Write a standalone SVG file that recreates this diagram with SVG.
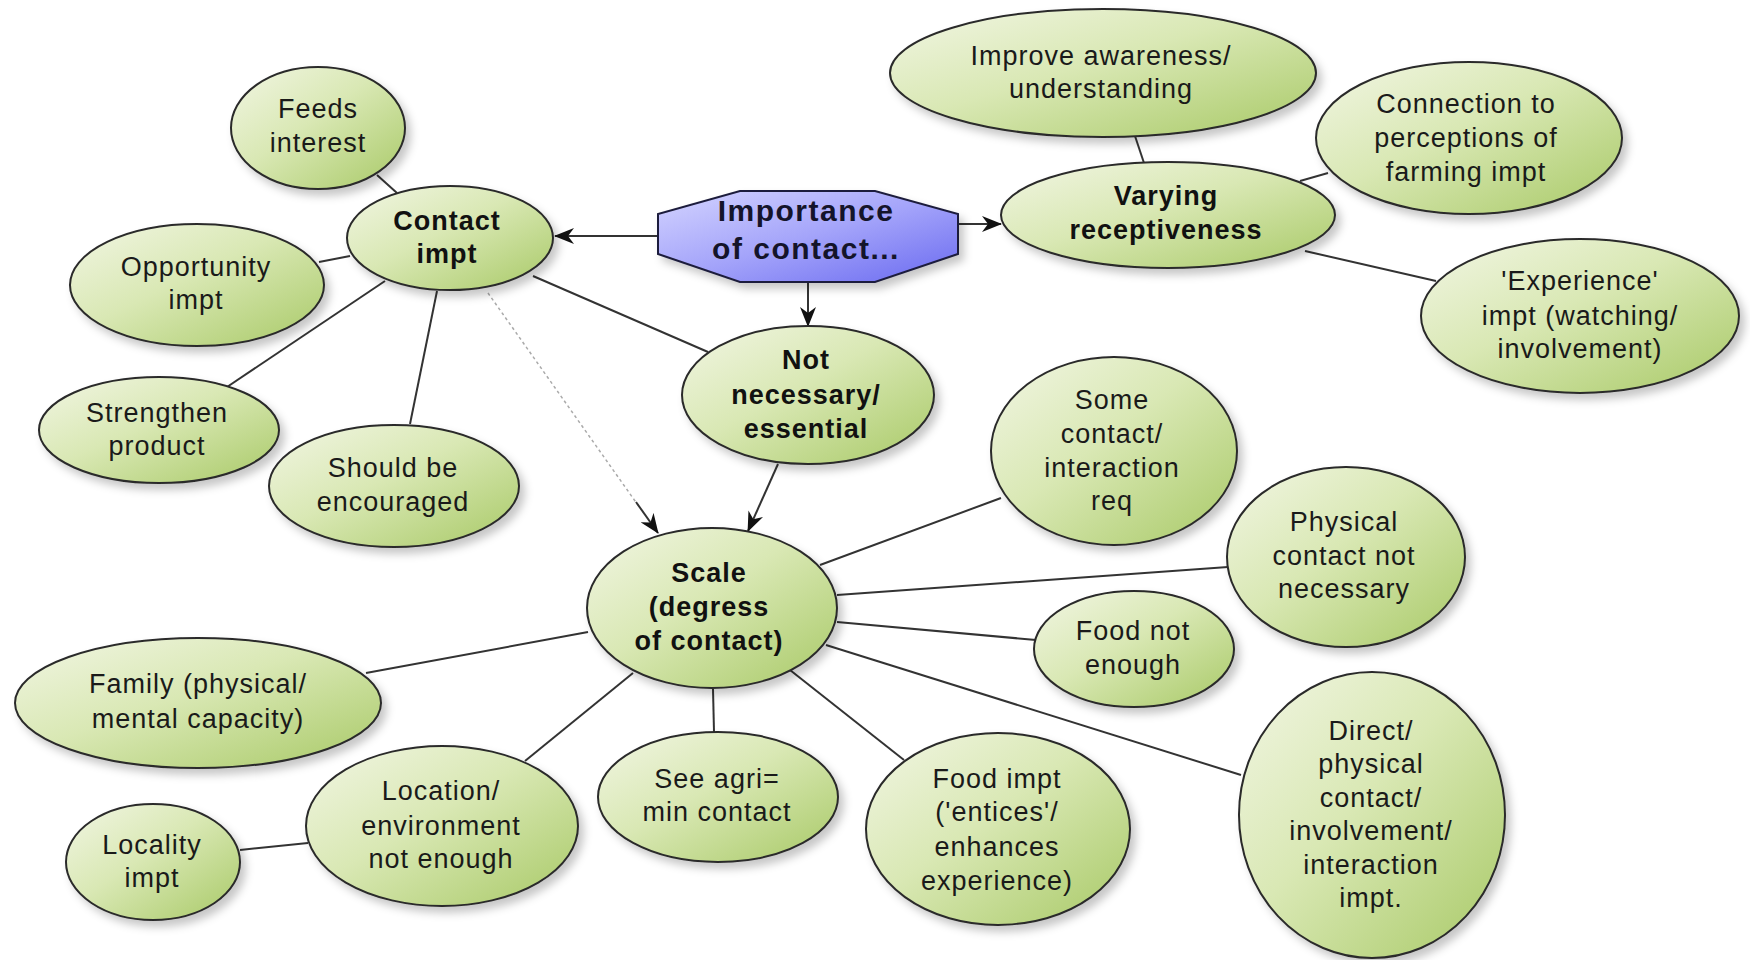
<svg xmlns="http://www.w3.org/2000/svg" width="1750" height="960" viewBox="0 0 1750 960">
<defs>
<linearGradient id="gGreen" x1="0" y1="0" x2="1" y2="1">
<stop offset="0" stop-color="#f2f6e4"/>
<stop offset="0.45" stop-color="#d9e8b4"/>
<stop offset="1" stop-color="#a8c966"/>
</linearGradient>
<linearGradient id="gBlue" x1="0" y1="0" x2="1" y2="1">
<stop offset="0" stop-color="#d4d4ff"/>
<stop offset="0.5" stop-color="#a4a4fa"/>
<stop offset="1" stop-color="#6a6af0"/>
</linearGradient>
<filter id="shadow" x="-20%" y="-20%" width="150%" height="150%">
<feDropShadow dx="5" dy="6" stdDeviation="4" flood-color="#000" flood-opacity="0.22"/>
</filter>
<marker id="arrow" viewBox="0 0 20 16" refX="19" refY="8" markerWidth="20" markerHeight="16" orient="auto" markerUnits="userSpaceOnUse">
<path d="M0,0 L20,8 L0,16 L6,8 z" fill="#111"/>
</marker>
<style>
.n ellipse{fill:url(#gGreen);stroke:#2a2a2a;stroke-width:2;filter:url(#shadow)}
.oct{fill:url(#gBlue);stroke:#1e1e3c;stroke-width:2;filter:url(#shadow)}
text{font-family:"Liberation Sans",Arial,sans-serif;font-size:27px;fill:#1a1a1a;text-anchor:middle;letter-spacing:1px}
.b{font-weight:bold;fill:#111}
.big{font-size:30px;letter-spacing:1.5px;fill:#14142a}
.c line{stroke:#333;stroke-width:2}
.c .a{marker-end:url(#arrow)}
.c .d{stroke:#aaa;stroke-width:1.5;stroke-dasharray:3 3}
</style>
</defs>
<rect width="1750" height="960" fill="#ffffff"/>

<g id="connectors" class="c">
<line x1="377" y1="175" x2="397" y2="193"/>
<line x1="319" y1="262" x2="350" y2="256"/>
<line x1="227" y1="387" x2="385" y2="281"/>
<line x1="410" y1="424" x2="437" y2="291"/>
<line x1="533" y1="276" x2="708" y2="352"/>
<line class="d" x1="488" y1="293" x2="640" y2="508"/>
<line class="a" x1="636" y1="502" x2="658" y2="533"/>
<line class="a" x1="658" y1="236" x2="555" y2="236"/>
<line class="a" x1="958" y1="224" x2="1001" y2="224"/>
<line class="a" x1="808" y1="282" x2="808" y2="326"/>
<line class="a" x1="778" y1="464" x2="748" y2="531"/>
<line x1="1135" y1="136" x2="1144" y2="163"/>
<line x1="1328" y1="173" x2="1300" y2="181"/>
<line x1="1436" y1="281" x2="1305" y2="251"/>
<line x1="820" y1="565" x2="1001" y2="498"/>
<line x1="837" y1="595" x2="1228" y2="567"/>
<line x1="837" y1="622" x2="1036" y2="640"/>
<line x1="826" y1="645" x2="1241" y2="775"/>
<line x1="790" y1="670" x2="904" y2="760"/>
<line x1="713" y1="689" x2="714" y2="732"/>
<line x1="633" y1="673" x2="525" y2="761"/>
<line x1="588" y1="632" x2="366" y2="673"/>
<line x1="240" y1="850" x2="308" y2="843"/>
</g>

<g id="importance">
<polygon class="oct" points="740,191 875,191 958,214 958,254 875,282 740,282 658,254 658,214"/>
<text class="b big" x="806" y="221">Importance</text>
<text class="b big" x="806" y="259">of contact...</text>
</g>

<g id="feeds-interest" class="n">
<ellipse cx="318" cy="128" rx="87" ry="61"/>
<text x="318" y="118">Feeds</text>
<text x="318" y="152">interest</text>
</g>

<g id="contact-impt" class="n">
<ellipse cx="450" cy="238" rx="103" ry="52"/>
<text class="b" x="447" y="230">Contact</text>
<text class="b" x="447" y="263">impt</text>
</g>

<g id="opportunity-impt" class="n">
<ellipse cx="197" cy="285" rx="127" ry="61"/>
<text x="196" y="276">Opportunity</text>
<text x="196" y="309">impt</text>
</g>

<g id="strengthen-product" class="n">
<ellipse cx="159" cy="430" rx="120" ry="53"/>
<text x="157" y="422">Strengthen</text>
<text x="157" y="455">product</text>
</g>

<g id="should-be-encouraged" class="n">
<ellipse cx="394" cy="486" rx="125" ry="61"/>
<text x="393" y="477">Should be</text>
<text x="393" y="511">encouraged</text>
</g>

<g id="not-necessary" class="n">
<ellipse cx="808" cy="395" rx="126" ry="69"/>
<text class="b" x="806" y="369">Not</text>
<text class="b" x="806" y="404">necessary/</text>
<text class="b" x="806" y="438">essential</text>
</g>

<g id="varying-receptiveness" class="n">
<ellipse cx="1168" cy="215" rx="167" ry="53"/>
<text class="b" x="1166" y="205">Varying</text>
<text class="b" x="1166" y="239">receptiveness</text>
</g>

<g id="improve-awareness" class="n">
<ellipse cx="1103" cy="73" rx="213" ry="64"/>
<text x="1101" y="65">Improve awareness/</text>
<text x="1101" y="98">understanding</text>
</g>

<g id="connection-perceptions" class="n">
<ellipse cx="1469" cy="138" rx="153" ry="76"/>
<text x="1466" y="113">Connection to</text>
<text x="1466" y="147">perceptions of</text>
<text x="1466" y="181">farming impt</text>
</g>

<g id="experience-impt" class="n">
<ellipse cx="1580" cy="316" rx="159" ry="77"/>
<text x="1580" y="290">'Experience'</text>
<text x="1580" y="325">impt (watching/</text>
<text x="1580" y="358">involvement)</text>
</g>

<g id="some-contact" class="n">
<ellipse cx="1114" cy="451" rx="123" ry="94"/>
<text x="1112" y="409">Some</text>
<text x="1112" y="443">contact/</text>
<text x="1112" y="477">interaction</text>
<text x="1112" y="510">req</text>
</g>

<g id="physical-contact-not-necessary" class="n">
<ellipse cx="1346" cy="557" rx="119" ry="90"/>
<text x="1344" y="531">Physical</text>
<text x="1344" y="565">contact not</text>
<text x="1344" y="598">necessary</text>
</g>

<g id="food-not-enough" class="n">
<ellipse cx="1134" cy="649" rx="100" ry="58"/>
<text x="1133" y="640">Food not</text>
<text x="1133" y="674">enough</text>
</g>

<g id="scale" class="n">
<ellipse cx="712" cy="608" rx="125" ry="80"/>
<text class="b" x="709" y="582">Scale</text>
<text class="b" x="709" y="616">(degress</text>
<text class="b" x="709" y="650">of contact)</text>
</g>

<g id="family" class="n">
<ellipse cx="198" cy="703" rx="183" ry="65"/>
<text x="198" y="693">Family (physical/</text>
<text x="198" y="728">mental capacity)</text>
</g>

<g id="locality-impt" class="n">
<ellipse cx="153" cy="862" rx="87" ry="58"/>
<text x="152" y="854">Locality</text>
<text x="152" y="887">impt</text>
</g>

<g id="location-environment" class="n">
<ellipse cx="442" cy="826" rx="136" ry="80"/>
<text x="441" y="800">Location/</text>
<text x="441" y="835">environment</text>
<text x="441" y="868">not enough</text>
</g>

<g id="see-agri" class="n">
<ellipse cx="718" cy="797" rx="120" ry="65"/>
<text x="717" y="788">See agri=</text>
<text x="717" y="821">min contact</text>
</g>

<g id="food-impt" class="n">
<ellipse cx="998" cy="829" rx="132" ry="96"/>
<text x="997" y="788">Food impt</text>
<text x="997" y="821">('entices'/</text>
<text x="997" y="856">enhances</text>
<text x="997" y="890">experience)</text>
</g>

<g id="direct-physical" class="n">
<ellipse cx="1372" cy="815" rx="133" ry="143"/>
<text x="1371" y="740">Direct/</text>
<text x="1371" y="773">physical</text>
<text x="1371" y="807">contact/</text>
<text x="1371" y="840">involvement/</text>
<text x="1371" y="874">interaction</text>
<text x="1371" y="907">impt.</text>
</g>
</svg>
